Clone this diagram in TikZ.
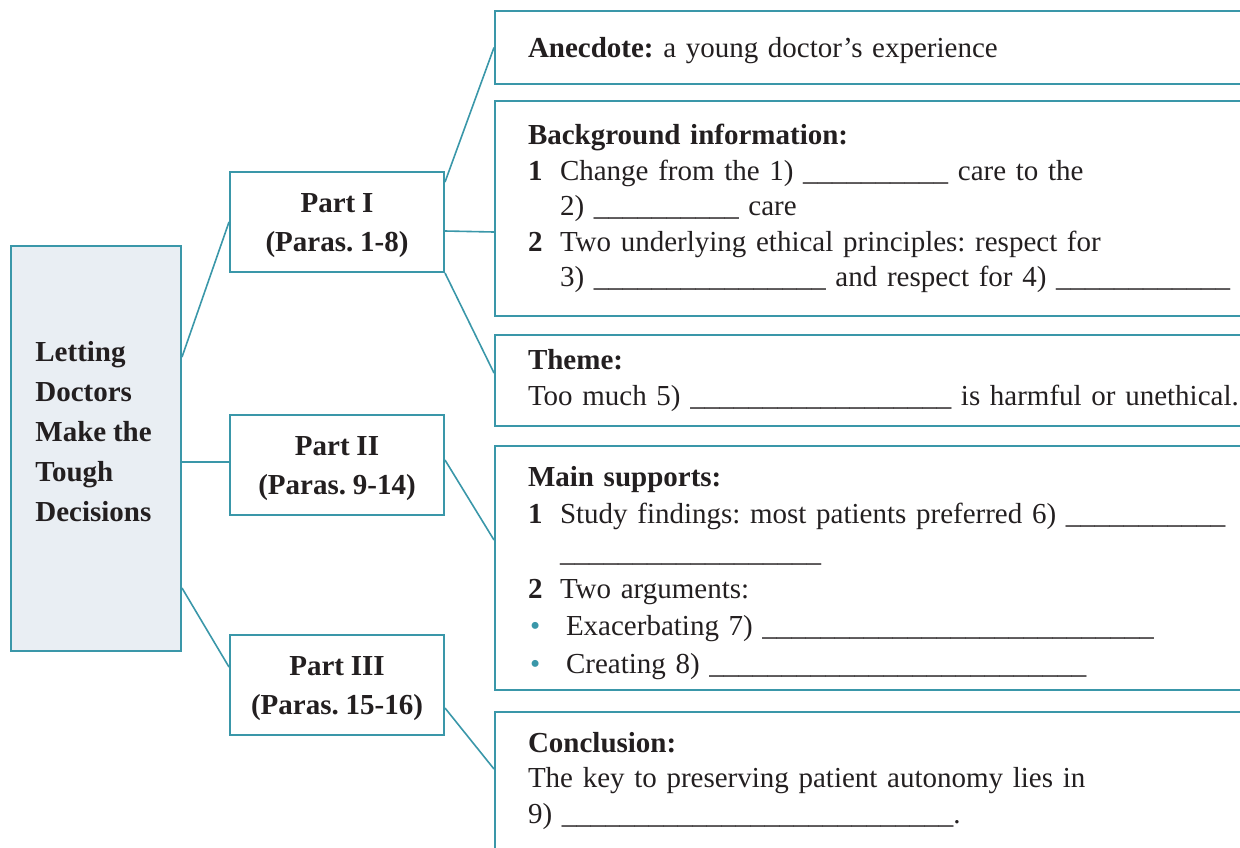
\documentclass[tikz,border=0pt]{standalone}
\usepackage{fontspec}
\setmainfont{Liberation Serif}
\usepackage{xcolor}
\usetikzlibrary{positioning}
\definecolor{tealline}{HTML}{3A97A9}
\definecolor{titlebg}{HTML}{E9EEF3}
\definecolor{ink}{HTML}{231F20}
\newcommand{\itemnum}[1]{\makebox[16pt][l]{\textbf{#1}}}
\newcommand{\itemgap}{\hspace*{16pt}}
\newcommand{\itembul}{\makebox[19pt][l]{\hspace{1pt}\textcolor{tealline}{\textbullet}}}
\newcommand{\blank}[1]{\foreach \k in {1,...,#1}{\_}}
\newcommand{\tightspace}{\frenchspacing\spaceskip=3.4pt\relax}

\begin{document}
\begin{tikzpicture}[
  x=0.5pt, y=-0.5pt,
  font=\fontsize{14.5}{17.75}\selectfont\tightspace,
  every node/.style={text=ink},
  titlebox/.style={draw=tealline, line width=1pt, fill=titlebg,
                   minimum width=85pt, minimum height=202.5pt, inner sep=0pt},
  partbox/.style={draw=tealline, line width=1pt, minimum width=107pt, minimum height=50pt,
                  text depth=0pt, align=center,
                  font=\fontsize{14.5}{19.5}\selectfont\bfseries\tightspace},
  infobox/.style={draw=tealline, line width=1pt, anchor=north west,
                  text width=380pt, inner xsep=16.5pt, align=left},
  link/.style={draw=tealline, line width=0.8pt}
]
\useasboundingbox (0,0) rectangle (1240,847);
\clip (0,0) rectangle (1240,847);

% left: title and the three parts
\node[titlebox] (title) at (96,448.5) {};
\node[anchor=west, align=left, inner sep=0pt,
      font=\fontsize{14.5}{20}\selectfont\bfseries\tightspace] (titletext) at (35,432)
  {Letting\\Doctors\\Make the\\Tough\\Decisions};
\node[partbox] (part1) at (337,222) {Part I\\(Paras. 1-8)};
\node[partbox] (part2) at (337,465) {Part II\\(Paras. 9-14)};
\node[partbox] (part3) at (337,685) {Part III\\(Paras. 15-16)};

% right: content boxes
\node[infobox, minimum height=36.5pt, text depth=0pt] (anec) at (494,10)
  {\textbf{Anecdote:} a young doctor’s experience};
\node[infobox, minimum height=107.5pt] (back) at (494,100)
  {\textbf{Background information:}\\
   \itemnum{1}Change from the 1) \blank{10} care to the\\
   \itemgap 2) \blank{10} care\\
   \itemnum{2}Two underlying ethical principles: respect for\\
   \itemgap 3) \blank{16} and respect for 4) \blank{12}};
\node[infobox, minimum height=45.5pt] (theme) at (494,334)
  {\textbf{Theme:}\\
   Too much 5) \blank{18} is harmful or unethical.};
\node[infobox, minimum height=122pt,
      font=\fontsize{14.5}{18.7}\selectfont\tightspace] (main) at (494,445)
  {\rule{0pt}{15pt}\textbf{Main supports:}\\
   \itemnum{1}Study findings: most patients preferred 6) \blank{11}\\
   \itemgap\blank{18}\\
   \itemnum{2}Two arguments:\\
   \itembul Exacerbating 7) \blank{27}\\
   \itembul Creating 8) \blank{26}};
\node[infobox, minimum height=69pt] (concl) at (494,711)
  {\textbf{Conclusion:}\\
   The key to preserving patient autonomy lies in\\
   9) \blank{27}.};

% connectors
\draw[link] ([shift={(0,-91.5)}]title.east) -- (part1.west);
\draw[link] ([shift={(0,13.5)}]title.east) -- ([shift={(0,-3)}]part2.west);
\draw[link] ([shift={(0,139.5)}]title.east) -- ([shift={(0,-18)}]part3.west);
\draw[link] ([shift={(0,11)}]part1.north east) -- (anec.west);
\draw[link] ([shift={(0,9)}]part1.east) -- ([shift={(0,23.5)}]back.west);
\draw[link] (part1.south east) -- ([shift={(0,-7.5)}]theme.west);
\draw[link] ([shift={(0,-5)}]part2.east) -- ([shift={(0,-28)}]main.west);
\draw[link] ([shift={(0,23)}]part3.east) -- ([shift={(0,-12)}]concl.west);
\end{tikzpicture}
\end{document}
